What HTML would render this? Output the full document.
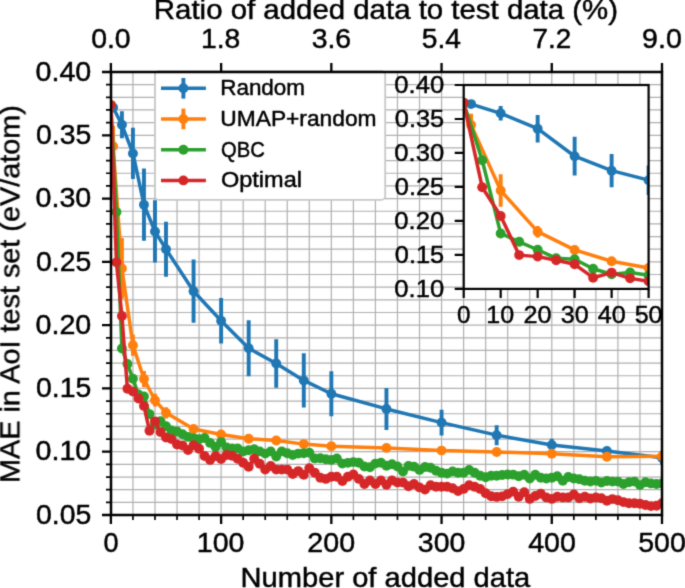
<!DOCTYPE html>
<html><head><meta charset="utf-8"><style>html,body{margin:0;padding:0;background:#fff;overflow:hidden}svg{display:block}text{font-family:"Liberation Sans",sans-serif;stroke:#000;stroke-width:0.45px}</style></head><body>
<svg width="685" height="588" viewBox="0 0 685 588" font-family="Liberation Sans, sans-serif">
<rect width="685" height="588" fill="#fff"/>
<defs>
<filter id="soft" x="0" y="0" width="685" height="588" filterUnits="userSpaceOnUse" color-interpolation-filters="sRGB"><feConvolveMatrix order="3" kernelMatrix="0.0225 0.1050 0.0225 0.1050 0.4900 0.1050 0.0225 0.1050 0.0225" edgeMode="duplicate" preserveAlpha="true"/></filter>
<clipPath id="cm"><rect x="110.9" y="72.0" width="551.1" height="443.0"/></clipPath>
<clipPath id="ci"><rect x="463.7" y="85.0" width="184.90000000000003" height="203.89999999999998"/></clipPath>
</defs>
<g filter="url(#soft)">
<rect width="685" height="588" fill="#fff"/>
<path d="M132.94 72.00V515.00M154.99 72.00V515.00M177.03 72.00V515.00M199.08 72.00V515.00M221.12 72.00V515.00M243.16 72.00V515.00M265.21 72.00V515.00M287.25 72.00V515.00M309.30 72.00V515.00M331.34 72.00V515.00M353.38 72.00V515.00M375.43 72.00V515.00M397.47 72.00V515.00M419.52 72.00V515.00M441.56 72.00V515.00M463.60 72.00V515.00M485.65 72.00V515.00M507.69 72.00V515.00M529.74 72.00V515.00M551.78 72.00V515.00M573.82 72.00V515.00M595.87 72.00V515.00M617.91 72.00V515.00M639.96 72.00V515.00M110.90 502.34H662.00M110.90 489.69H662.00M110.90 477.03H662.00M110.90 464.37H662.00M110.90 451.71H662.00M110.90 439.06H662.00M110.90 426.40H662.00M110.90 413.74H662.00M110.90 401.09H662.00M110.90 388.43H662.00M110.90 375.77H662.00M110.90 363.11H662.00M110.90 350.46H662.00M110.90 337.80H662.00M110.90 325.14H662.00M110.90 312.49H662.00M110.90 299.83H662.00M110.90 287.17H662.00M110.90 274.51H662.00M110.90 261.86H662.00M110.90 249.20H662.00M110.90 236.54H662.00M110.90 223.89H662.00M110.90 211.23H662.00M110.90 198.57H662.00M110.90 185.91H662.00M110.90 173.26H662.00M110.90 160.60H662.00M110.90 147.94H662.00M110.90 135.29H662.00M110.90 122.63H662.00M110.90 109.97H662.00M110.90 97.31H662.00M110.90 84.66H662.00" stroke="#b0b0b0" stroke-width="1.2" fill="none"/>
<g clip-path="url(#cm)">
<path d="M113.10 111.36V103.77M121.92 138.32V111.24M132.94 178.95V127.82M143.97 240.72V168.57M154.99 262.62V200.34M166.01 276.67V221.73M193.56 322.86V259.58M221.12 343.50V297.93M248.68 376.15V320.21M276.23 387.80V339.19M303.78 407.54V353.37M331.34 416.27V371.21M386.45 429.94V387.92M441.56 435.51V409.69M496.67 445.13V425.13M551.78 451.33V438.68M606.89 454.75V447.16M662.00 464.50V450.83" stroke="#1f77b4" stroke-width="3.9" fill="none"/>
<path d="M113.10 107.57 L121.92 124.78 L132.94 153.39 L143.97 204.65 L154.99 231.48 L166.01 249.20 L193.56 291.22 L221.12 320.71 L248.68 348.18 L276.23 363.49 L303.78 380.45 L331.34 393.74 L386.45 408.93 L441.56 422.60 L496.67 435.13 L551.78 445.01 L606.89 450.95 L662.00 457.66" stroke="#1f77b4" stroke-width="3.5" fill="none" stroke-linejoin="round" stroke-linecap="butt"/>
<circle cx="113.10" cy="107.57" r="4.95" fill="#1f77b4"/>
<circle cx="121.92" cy="124.78" r="4.95" fill="#1f77b4"/>
<circle cx="132.94" cy="153.39" r="4.95" fill="#1f77b4"/>
<circle cx="143.97" cy="204.65" r="4.95" fill="#1f77b4"/>
<circle cx="154.99" cy="231.48" r="4.95" fill="#1f77b4"/>
<circle cx="166.01" cy="249.20" r="4.95" fill="#1f77b4"/>
<circle cx="193.56" cy="291.22" r="4.95" fill="#1f77b4"/>
<circle cx="221.12" cy="320.71" r="4.95" fill="#1f77b4"/>
<circle cx="248.68" cy="348.18" r="4.95" fill="#1f77b4"/>
<circle cx="276.23" cy="363.49" r="4.95" fill="#1f77b4"/>
<circle cx="303.78" cy="380.45" r="4.95" fill="#1f77b4"/>
<circle cx="331.34" cy="393.74" r="4.95" fill="#1f77b4"/>
<circle cx="386.45" cy="408.93" r="4.95" fill="#1f77b4"/>
<circle cx="441.56" cy="422.60" r="4.95" fill="#1f77b4"/>
<circle cx="496.67" cy="435.13" r="4.95" fill="#1f77b4"/>
<circle cx="551.78" cy="445.01" r="4.95" fill="#1f77b4"/>
<circle cx="606.89" cy="450.95" r="4.95" fill="#1f77b4"/>
<circle cx="662.00" cy="457.66" r="4.95" fill="#1f77b4"/>
</g>
<g clip-path="url(#cm)">
<path d="M113.10 166.93V125.67M121.92 298.82V238.06M132.94 355.77V334.51M143.97 387.16V370.96M154.99 406.53V393.87M166.01 418.43V407.29M193.56 432.73V425.13M221.12 437.03V431.97M248.68 441.21V436.15M276.23 442.98V437.92M303.78 446.65V441.59M331.34 448.68V443.61M386.45 450.45V445.39M441.56 453.11V448.04M496.67 454.50V449.44M551.78 456.27V451.21M606.89 459.31V454.25M662.00 458.80V453.74" stroke="#ff7f0e" stroke-width="3.9" fill="none"/>
<path d="M113.10 146.30 L121.92 268.44 L132.94 345.14 L143.97 379.06 L154.99 400.20 L166.01 412.86 L193.56 428.93 L221.12 434.50 L248.68 438.68 L276.23 440.45 L303.78 444.12 L331.34 446.15 L386.45 447.92 L441.56 450.58 L496.67 451.97 L551.78 453.74 L606.89 456.78 L662.00 456.27" stroke="#ff7f0e" stroke-width="3.5" fill="none" stroke-linejoin="round" stroke-linecap="butt"/>
<circle cx="113.10" cy="146.30" r="4.95" fill="#ff7f0e"/>
<circle cx="121.92" cy="268.44" r="4.95" fill="#ff7f0e"/>
<circle cx="132.94" cy="345.14" r="4.95" fill="#ff7f0e"/>
<circle cx="143.97" cy="379.06" r="4.95" fill="#ff7f0e"/>
<circle cx="154.99" cy="400.20" r="4.95" fill="#ff7f0e"/>
<circle cx="166.01" cy="412.86" r="4.95" fill="#ff7f0e"/>
<circle cx="193.56" cy="428.93" r="4.95" fill="#ff7f0e"/>
<circle cx="221.12" cy="434.50" r="4.95" fill="#ff7f0e"/>
<circle cx="248.68" cy="438.68" r="4.95" fill="#ff7f0e"/>
<circle cx="276.23" cy="440.45" r="4.95" fill="#ff7f0e"/>
<circle cx="303.78" cy="444.12" r="4.95" fill="#ff7f0e"/>
<circle cx="331.34" cy="446.15" r="4.95" fill="#ff7f0e"/>
<circle cx="386.45" cy="447.92" r="4.95" fill="#ff7f0e"/>
<circle cx="441.56" cy="450.58" r="4.95" fill="#ff7f0e"/>
<circle cx="496.67" cy="451.97" r="4.95" fill="#ff7f0e"/>
<circle cx="551.78" cy="453.74" r="4.95" fill="#ff7f0e"/>
<circle cx="606.89" cy="456.78" r="4.95" fill="#ff7f0e"/>
<circle cx="662.00" cy="456.27" r="4.95" fill="#ff7f0e"/>
</g>
<g clip-path="url(#cm)">
<path d="M110.90 104.91 L116.41 212.11 L121.92 348.43 L127.43 364.00 L132.94 378.81 L138.46 394.50 L143.97 396.40 L149.48 414.12 L154.99 424.50 L160.50 421.21 L166.01 426.27 L171.52 430.40 L177.03 431.50 L182.54 434.20 L188.05 436.90 L193.56 438.10 L199.08 439.30 L204.59 438.00 L210.10 442.90 L215.61 447.00 L221.12 442.12 L226.63 447.40 L232.14 448.50 L237.65 448.50 L243.16 451.40 L248.68 450.30 L254.19 449.20 L259.70 451.40 L265.21 453.60 L270.72 451.40 L276.23 456.50 L281.74 451.40 L287.25 453.20 L292.76 455.00 L298.27 453.60 L303.78 453.20 L309.30 452.80 L314.81 458.41 L320.32 458.27 L325.83 459.20 L331.34 459.90 L336.85 458.50 L342.36 463.60 L347.87 462.85 L353.38 462.10 L358.89 462.80 L364.41 466.50 L369.92 467.20 L375.43 463.60 L380.94 462.80 L386.45 465.80 L391.96 464.30 L397.47 466.50 L402.98 471.60 L408.49 465.92 L414.00 466.64 L419.52 469.90 L425.03 467.00 L430.54 467.70 L436.05 470.70 L441.56 472.80 L447.07 473.60 L452.58 471.40 L458.09 472.80 L463.60 472.80 L469.12 469.90 L474.63 472.80 L480.14 475.80 L485.65 477.20 L491.16 475.80 L496.67 475.80 L502.18 474.93 L507.69 474.55 L513.20 474.66 L518.71 476.30 L524.23 474.80 L529.74 478.50 L535.25 474.80 L540.76 477.70 L546.27 478.50 L551.78 477.70 L557.29 476.30 L562.80 480.70 L568.31 477.00 L573.82 478.50 L579.34 479.20 L584.85 480.70 L590.36 481.55 L595.87 480.83 L601.38 482.59 L606.89 481.00 L612.40 481.60 L617.91 481.60 L623.42 484.00 L628.93 482.20 L634.44 481.60 L639.96 485.10 L645.47 482.20 L650.98 483.40 L656.49 484.00 L662.00 483.40" stroke="#2ca02c" stroke-width="3.5" fill="none" stroke-linejoin="round" stroke-linecap="butt"/>
<circle cx="110.90" cy="104.91" r="4.95" fill="#2ca02c"/>
<circle cx="116.41" cy="212.11" r="4.95" fill="#2ca02c"/>
<circle cx="121.92" cy="348.43" r="4.95" fill="#2ca02c"/>
<circle cx="127.43" cy="364.00" r="4.95" fill="#2ca02c"/>
<circle cx="132.94" cy="378.81" r="4.95" fill="#2ca02c"/>
<circle cx="138.46" cy="394.50" r="4.95" fill="#2ca02c"/>
<circle cx="143.97" cy="396.40" r="4.95" fill="#2ca02c"/>
<circle cx="149.48" cy="414.12" r="4.95" fill="#2ca02c"/>
<circle cx="154.99" cy="424.50" r="4.95" fill="#2ca02c"/>
<circle cx="160.50" cy="421.21" r="4.95" fill="#2ca02c"/>
<circle cx="166.01" cy="426.27" r="4.95" fill="#2ca02c"/>
<circle cx="171.52" cy="430.40" r="4.95" fill="#2ca02c"/>
<circle cx="177.03" cy="431.50" r="4.95" fill="#2ca02c"/>
<circle cx="182.54" cy="434.20" r="4.95" fill="#2ca02c"/>
<circle cx="188.05" cy="436.90" r="4.95" fill="#2ca02c"/>
<circle cx="193.56" cy="438.10" r="4.95" fill="#2ca02c"/>
<circle cx="199.08" cy="439.30" r="4.95" fill="#2ca02c"/>
<circle cx="204.59" cy="438.00" r="4.95" fill="#2ca02c"/>
<circle cx="210.10" cy="442.90" r="4.95" fill="#2ca02c"/>
<circle cx="215.61" cy="447.00" r="4.95" fill="#2ca02c"/>
<circle cx="221.12" cy="442.12" r="4.95" fill="#2ca02c"/>
<circle cx="226.63" cy="447.40" r="4.95" fill="#2ca02c"/>
<circle cx="232.14" cy="448.50" r="4.95" fill="#2ca02c"/>
<circle cx="237.65" cy="448.50" r="4.95" fill="#2ca02c"/>
<circle cx="243.16" cy="451.40" r="4.95" fill="#2ca02c"/>
<circle cx="248.68" cy="450.30" r="4.95" fill="#2ca02c"/>
<circle cx="254.19" cy="449.20" r="4.95" fill="#2ca02c"/>
<circle cx="259.70" cy="451.40" r="4.95" fill="#2ca02c"/>
<circle cx="265.21" cy="453.60" r="4.95" fill="#2ca02c"/>
<circle cx="270.72" cy="451.40" r="4.95" fill="#2ca02c"/>
<circle cx="276.23" cy="456.50" r="4.95" fill="#2ca02c"/>
<circle cx="281.74" cy="451.40" r="4.95" fill="#2ca02c"/>
<circle cx="287.25" cy="453.20" r="4.95" fill="#2ca02c"/>
<circle cx="292.76" cy="455.00" r="4.95" fill="#2ca02c"/>
<circle cx="298.27" cy="453.60" r="4.95" fill="#2ca02c"/>
<circle cx="303.78" cy="453.20" r="4.95" fill="#2ca02c"/>
<circle cx="309.30" cy="452.80" r="4.95" fill="#2ca02c"/>
<circle cx="314.81" cy="458.41" r="4.95" fill="#2ca02c"/>
<circle cx="320.32" cy="458.27" r="4.95" fill="#2ca02c"/>
<circle cx="325.83" cy="459.20" r="4.95" fill="#2ca02c"/>
<circle cx="331.34" cy="459.90" r="4.95" fill="#2ca02c"/>
<circle cx="336.85" cy="458.50" r="4.95" fill="#2ca02c"/>
<circle cx="342.36" cy="463.60" r="4.95" fill="#2ca02c"/>
<circle cx="347.87" cy="462.85" r="4.95" fill="#2ca02c"/>
<circle cx="353.38" cy="462.10" r="4.95" fill="#2ca02c"/>
<circle cx="358.89" cy="462.80" r="4.95" fill="#2ca02c"/>
<circle cx="364.41" cy="466.50" r="4.95" fill="#2ca02c"/>
<circle cx="369.92" cy="467.20" r="4.95" fill="#2ca02c"/>
<circle cx="375.43" cy="463.60" r="4.95" fill="#2ca02c"/>
<circle cx="380.94" cy="462.80" r="4.95" fill="#2ca02c"/>
<circle cx="386.45" cy="465.80" r="4.95" fill="#2ca02c"/>
<circle cx="391.96" cy="464.30" r="4.95" fill="#2ca02c"/>
<circle cx="397.47" cy="466.50" r="4.95" fill="#2ca02c"/>
<circle cx="402.98" cy="471.60" r="4.95" fill="#2ca02c"/>
<circle cx="408.49" cy="465.92" r="4.95" fill="#2ca02c"/>
<circle cx="414.00" cy="466.64" r="4.95" fill="#2ca02c"/>
<circle cx="419.52" cy="469.90" r="4.95" fill="#2ca02c"/>
<circle cx="425.03" cy="467.00" r="4.95" fill="#2ca02c"/>
<circle cx="430.54" cy="467.70" r="4.95" fill="#2ca02c"/>
<circle cx="436.05" cy="470.70" r="4.95" fill="#2ca02c"/>
<circle cx="441.56" cy="472.80" r="4.95" fill="#2ca02c"/>
<circle cx="447.07" cy="473.60" r="4.95" fill="#2ca02c"/>
<circle cx="452.58" cy="471.40" r="4.95" fill="#2ca02c"/>
<circle cx="458.09" cy="472.80" r="4.95" fill="#2ca02c"/>
<circle cx="463.60" cy="472.80" r="4.95" fill="#2ca02c"/>
<circle cx="469.12" cy="469.90" r="4.95" fill="#2ca02c"/>
<circle cx="474.63" cy="472.80" r="4.95" fill="#2ca02c"/>
<circle cx="480.14" cy="475.80" r="4.95" fill="#2ca02c"/>
<circle cx="485.65" cy="477.20" r="4.95" fill="#2ca02c"/>
<circle cx="491.16" cy="475.80" r="4.95" fill="#2ca02c"/>
<circle cx="496.67" cy="475.80" r="4.95" fill="#2ca02c"/>
<circle cx="502.18" cy="474.93" r="4.95" fill="#2ca02c"/>
<circle cx="507.69" cy="474.55" r="4.95" fill="#2ca02c"/>
<circle cx="513.20" cy="474.66" r="4.95" fill="#2ca02c"/>
<circle cx="518.71" cy="476.30" r="4.95" fill="#2ca02c"/>
<circle cx="524.23" cy="474.80" r="4.95" fill="#2ca02c"/>
<circle cx="529.74" cy="478.50" r="4.95" fill="#2ca02c"/>
<circle cx="535.25" cy="474.80" r="4.95" fill="#2ca02c"/>
<circle cx="540.76" cy="477.70" r="4.95" fill="#2ca02c"/>
<circle cx="546.27" cy="478.50" r="4.95" fill="#2ca02c"/>
<circle cx="551.78" cy="477.70" r="4.95" fill="#2ca02c"/>
<circle cx="557.29" cy="476.30" r="4.95" fill="#2ca02c"/>
<circle cx="562.80" cy="480.70" r="4.95" fill="#2ca02c"/>
<circle cx="568.31" cy="477.00" r="4.95" fill="#2ca02c"/>
<circle cx="573.82" cy="478.50" r="4.95" fill="#2ca02c"/>
<circle cx="579.34" cy="479.20" r="4.95" fill="#2ca02c"/>
<circle cx="584.85" cy="480.70" r="4.95" fill="#2ca02c"/>
<circle cx="590.36" cy="481.55" r="4.95" fill="#2ca02c"/>
<circle cx="595.87" cy="480.83" r="4.95" fill="#2ca02c"/>
<circle cx="601.38" cy="482.59" r="4.95" fill="#2ca02c"/>
<circle cx="606.89" cy="481.00" r="4.95" fill="#2ca02c"/>
<circle cx="612.40" cy="481.60" r="4.95" fill="#2ca02c"/>
<circle cx="617.91" cy="481.60" r="4.95" fill="#2ca02c"/>
<circle cx="623.42" cy="484.00" r="4.95" fill="#2ca02c"/>
<circle cx="628.93" cy="482.20" r="4.95" fill="#2ca02c"/>
<circle cx="634.44" cy="481.60" r="4.95" fill="#2ca02c"/>
<circle cx="639.96" cy="485.10" r="4.95" fill="#2ca02c"/>
<circle cx="645.47" cy="482.20" r="4.95" fill="#2ca02c"/>
<circle cx="650.98" cy="483.40" r="4.95" fill="#2ca02c"/>
<circle cx="656.49" cy="484.00" r="4.95" fill="#2ca02c"/>
<circle cx="662.00" cy="483.40" r="4.95" fill="#2ca02c"/>
</g>
<g clip-path="url(#cm)">
<path d="M110.90 104.91 L116.41 262.36 L121.92 315.90 L127.43 388.81 L132.94 391.59 L138.46 398.43 L143.97 405.90 L149.48 430.83 L154.99 421.34 L160.50 432.10 L166.01 437.54 L171.52 439.10 L177.03 444.43 L182.54 445.54 L188.05 450.07 L193.56 445.27 L199.08 448.80 L204.59 456.00 L210.10 460.10 L215.61 456.00 L221.12 459.12 L226.63 454.99 L232.14 455.80 L237.65 458.70 L243.16 462.70 L248.68 466.70 L254.19 458.70 L259.70 463.80 L265.21 469.60 L270.72 466.00 L276.23 469.60 L281.74 469.60 L287.25 469.60 L292.76 474.00 L298.27 471.10 L303.78 474.70 L309.30 468.20 L314.81 472.74 L320.32 477.70 L325.83 478.90 L331.34 476.70 L336.85 476.70 L342.36 481.10 L347.87 476.70 L353.38 474.50 L358.89 478.90 L364.41 484.00 L369.92 480.40 L375.43 484.00 L380.94 480.40 L386.45 484.70 L391.96 480.40 L397.47 482.60 L402.98 482.60 L408.49 486.32 L414.00 484.04 L419.52 487.40 L425.03 489.60 L430.54 485.30 L436.05 486.70 L441.56 486.70 L447.07 486.70 L452.58 488.20 L458.09 491.10 L463.60 488.90 L469.12 485.30 L474.63 486.70 L480.14 488.90 L485.65 493.30 L491.16 496.20 L496.67 496.90 L502.18 496.37 L507.69 494.10 L513.20 491.63 L518.71 496.70 L524.23 492.30 L529.74 498.90 L535.25 496.00 L540.76 493.80 L546.27 497.40 L551.78 498.90 L557.29 496.70 L562.80 497.40 L568.31 497.40 L573.82 494.50 L579.34 498.20 L584.85 496.70 L590.36 498.50 L595.87 497.51 L601.38 498.24 L606.89 500.79 L612.40 499.10 L617.91 500.30 L623.42 502.10 L628.93 503.20 L634.44 503.20 L639.96 503.80 L645.47 505.00 L650.98 506.10 L656.49 505.72 L662.00 503.20" stroke="#d62728" stroke-width="3.5" fill="none" stroke-linejoin="round" stroke-linecap="butt"/>
<circle cx="110.90" cy="104.91" r="4.95" fill="#d62728"/>
<circle cx="116.41" cy="262.36" r="4.95" fill="#d62728"/>
<circle cx="121.92" cy="315.90" r="4.95" fill="#d62728"/>
<circle cx="127.43" cy="388.81" r="4.95" fill="#d62728"/>
<circle cx="132.94" cy="391.59" r="4.95" fill="#d62728"/>
<circle cx="138.46" cy="398.43" r="4.95" fill="#d62728"/>
<circle cx="143.97" cy="405.90" r="4.95" fill="#d62728"/>
<circle cx="149.48" cy="430.83" r="4.95" fill="#d62728"/>
<circle cx="154.99" cy="421.34" r="4.95" fill="#d62728"/>
<circle cx="160.50" cy="432.10" r="4.95" fill="#d62728"/>
<circle cx="166.01" cy="437.54" r="4.95" fill="#d62728"/>
<circle cx="171.52" cy="439.10" r="4.95" fill="#d62728"/>
<circle cx="177.03" cy="444.43" r="4.95" fill="#d62728"/>
<circle cx="182.54" cy="445.54" r="4.95" fill="#d62728"/>
<circle cx="188.05" cy="450.07" r="4.95" fill="#d62728"/>
<circle cx="193.56" cy="445.27" r="4.95" fill="#d62728"/>
<circle cx="199.08" cy="448.80" r="4.95" fill="#d62728"/>
<circle cx="204.59" cy="456.00" r="4.95" fill="#d62728"/>
<circle cx="210.10" cy="460.10" r="4.95" fill="#d62728"/>
<circle cx="215.61" cy="456.00" r="4.95" fill="#d62728"/>
<circle cx="221.12" cy="459.12" r="4.95" fill="#d62728"/>
<circle cx="226.63" cy="454.99" r="4.95" fill="#d62728"/>
<circle cx="232.14" cy="455.80" r="4.95" fill="#d62728"/>
<circle cx="237.65" cy="458.70" r="4.95" fill="#d62728"/>
<circle cx="243.16" cy="462.70" r="4.95" fill="#d62728"/>
<circle cx="248.68" cy="466.70" r="4.95" fill="#d62728"/>
<circle cx="254.19" cy="458.70" r="4.95" fill="#d62728"/>
<circle cx="259.70" cy="463.80" r="4.95" fill="#d62728"/>
<circle cx="265.21" cy="469.60" r="4.95" fill="#d62728"/>
<circle cx="270.72" cy="466.00" r="4.95" fill="#d62728"/>
<circle cx="276.23" cy="469.60" r="4.95" fill="#d62728"/>
<circle cx="281.74" cy="469.60" r="4.95" fill="#d62728"/>
<circle cx="287.25" cy="469.60" r="4.95" fill="#d62728"/>
<circle cx="292.76" cy="474.00" r="4.95" fill="#d62728"/>
<circle cx="298.27" cy="471.10" r="4.95" fill="#d62728"/>
<circle cx="303.78" cy="474.70" r="4.95" fill="#d62728"/>
<circle cx="309.30" cy="468.20" r="4.95" fill="#d62728"/>
<circle cx="314.81" cy="472.74" r="4.95" fill="#d62728"/>
<circle cx="320.32" cy="477.70" r="4.95" fill="#d62728"/>
<circle cx="325.83" cy="478.90" r="4.95" fill="#d62728"/>
<circle cx="331.34" cy="476.70" r="4.95" fill="#d62728"/>
<circle cx="336.85" cy="476.70" r="4.95" fill="#d62728"/>
<circle cx="342.36" cy="481.10" r="4.95" fill="#d62728"/>
<circle cx="347.87" cy="476.70" r="4.95" fill="#d62728"/>
<circle cx="353.38" cy="474.50" r="4.95" fill="#d62728"/>
<circle cx="358.89" cy="478.90" r="4.95" fill="#d62728"/>
<circle cx="364.41" cy="484.00" r="4.95" fill="#d62728"/>
<circle cx="369.92" cy="480.40" r="4.95" fill="#d62728"/>
<circle cx="375.43" cy="484.00" r="4.95" fill="#d62728"/>
<circle cx="380.94" cy="480.40" r="4.95" fill="#d62728"/>
<circle cx="386.45" cy="484.70" r="4.95" fill="#d62728"/>
<circle cx="391.96" cy="480.40" r="4.95" fill="#d62728"/>
<circle cx="397.47" cy="482.60" r="4.95" fill="#d62728"/>
<circle cx="402.98" cy="482.60" r="4.95" fill="#d62728"/>
<circle cx="408.49" cy="486.32" r="4.95" fill="#d62728"/>
<circle cx="414.00" cy="484.04" r="4.95" fill="#d62728"/>
<circle cx="419.52" cy="487.40" r="4.95" fill="#d62728"/>
<circle cx="425.03" cy="489.60" r="4.95" fill="#d62728"/>
<circle cx="430.54" cy="485.30" r="4.95" fill="#d62728"/>
<circle cx="436.05" cy="486.70" r="4.95" fill="#d62728"/>
<circle cx="441.56" cy="486.70" r="4.95" fill="#d62728"/>
<circle cx="447.07" cy="486.70" r="4.95" fill="#d62728"/>
<circle cx="452.58" cy="488.20" r="4.95" fill="#d62728"/>
<circle cx="458.09" cy="491.10" r="4.95" fill="#d62728"/>
<circle cx="463.60" cy="488.90" r="4.95" fill="#d62728"/>
<circle cx="469.12" cy="485.30" r="4.95" fill="#d62728"/>
<circle cx="474.63" cy="486.70" r="4.95" fill="#d62728"/>
<circle cx="480.14" cy="488.90" r="4.95" fill="#d62728"/>
<circle cx="485.65" cy="493.30" r="4.95" fill="#d62728"/>
<circle cx="491.16" cy="496.20" r="4.95" fill="#d62728"/>
<circle cx="496.67" cy="496.90" r="4.95" fill="#d62728"/>
<circle cx="502.18" cy="496.37" r="4.95" fill="#d62728"/>
<circle cx="507.69" cy="494.10" r="4.95" fill="#d62728"/>
<circle cx="513.20" cy="491.63" r="4.95" fill="#d62728"/>
<circle cx="518.71" cy="496.70" r="4.95" fill="#d62728"/>
<circle cx="524.23" cy="492.30" r="4.95" fill="#d62728"/>
<circle cx="529.74" cy="498.90" r="4.95" fill="#d62728"/>
<circle cx="535.25" cy="496.00" r="4.95" fill="#d62728"/>
<circle cx="540.76" cy="493.80" r="4.95" fill="#d62728"/>
<circle cx="546.27" cy="497.40" r="4.95" fill="#d62728"/>
<circle cx="551.78" cy="498.90" r="4.95" fill="#d62728"/>
<circle cx="557.29" cy="496.70" r="4.95" fill="#d62728"/>
<circle cx="562.80" cy="497.40" r="4.95" fill="#d62728"/>
<circle cx="568.31" cy="497.40" r="4.95" fill="#d62728"/>
<circle cx="573.82" cy="494.50" r="4.95" fill="#d62728"/>
<circle cx="579.34" cy="498.20" r="4.95" fill="#d62728"/>
<circle cx="584.85" cy="496.70" r="4.95" fill="#d62728"/>
<circle cx="590.36" cy="498.50" r="4.95" fill="#d62728"/>
<circle cx="595.87" cy="497.51" r="4.95" fill="#d62728"/>
<circle cx="601.38" cy="498.24" r="4.95" fill="#d62728"/>
<circle cx="606.89" cy="500.79" r="4.95" fill="#d62728"/>
<circle cx="612.40" cy="499.10" r="4.95" fill="#d62728"/>
<circle cx="617.91" cy="500.30" r="4.95" fill="#d62728"/>
<circle cx="623.42" cy="502.10" r="4.95" fill="#d62728"/>
<circle cx="628.93" cy="503.20" r="4.95" fill="#d62728"/>
<circle cx="634.44" cy="503.20" r="4.95" fill="#d62728"/>
<circle cx="639.96" cy="503.80" r="4.95" fill="#d62728"/>
<circle cx="645.47" cy="505.00" r="4.95" fill="#d62728"/>
<circle cx="650.98" cy="506.10" r="4.95" fill="#d62728"/>
<circle cx="656.49" cy="505.72" r="4.95" fill="#d62728"/>
<circle cx="662.00" cy="503.20" r="4.95" fill="#d62728"/>
</g>
<rect x="155.0" y="71.2" width="230.2" height="128.7" rx="4" fill="#fff" stroke="#c8c8c8" stroke-width="1.8"/>
<path d="M161 88.30H205.9" stroke="#1f77b4" stroke-width="3.5"/>
<path d="M183.4 78.00V98.60" stroke="#1f77b4" stroke-width="3.9"/>
<circle cx="183.4" cy="88.30" r="4.95" fill="#1f77b4"/>
<text x="0" y="0" font-size="21.594" transform="translate(220.20,95.30) scale(1.0394,1)" fill="#000">Random</text>
<path d="M161 118.90H205.9" stroke="#ff7f0e" stroke-width="3.5"/>
<path d="M183.4 108.60V129.20" stroke="#ff7f0e" stroke-width="3.9"/>
<circle cx="183.4" cy="118.90" r="4.95" fill="#ff7f0e"/>
<text x="0" y="0" font-size="21.594" transform="translate(220.29,125.90) scale(1.0547,1)" fill="#000">UMAP+random</text>
<path d="M161 149.70H205.9" stroke="#2ca02c" stroke-width="3.5"/>
<circle cx="183.4" cy="149.70" r="4.95" fill="#2ca02c"/>
<text x="0" y="0" font-size="21.777" transform="translate(221.09,156.70) scale(0.9300,1)" fill="#000">QBC</text>
<path d="M161 180.40H205.9" stroke="#d62728" stroke-width="3.5"/>
<circle cx="183.4" cy="180.40" r="4.95" fill="#d62728"/>
<text x="0" y="0" font-size="21.594" transform="translate(220.94,187.40) scale(1.0898,1)" fill="#000">Optimal</text>
<rect x="463.7" y="85.0" width="184.90000000000003" height="203.89999999999998" fill="#fff"/>
<g clip-path="url(#ci)">
<path d="M471.10 106.14V102.06M500.68 120.61V106.07M537.66 142.43V114.97M574.64 175.60V136.86M611.62 187.36V153.92M648.60 194.90V165.40" stroke="#1f77b4" stroke-width="3.9" fill="none"/>
<path d="M471.10 104.10 L500.68 113.34 L537.66 128.70 L574.64 156.23 L611.62 170.64 L648.60 180.15" stroke="#1f77b4" stroke-width="3.5" fill="none" stroke-linejoin="round" stroke-linecap="butt"/>
<circle cx="471.10" cy="104.10" r="4.95" fill="#1f77b4"/>
<circle cx="500.68" cy="113.34" r="4.95" fill="#1f77b4"/>
<circle cx="537.66" cy="128.70" r="4.95" fill="#1f77b4"/>
<circle cx="574.64" cy="156.23" r="4.95" fill="#1f77b4"/>
<circle cx="611.62" cy="170.64" r="4.95" fill="#1f77b4"/>
<circle cx="648.60" cy="180.15" r="4.95" fill="#1f77b4"/>
</g>
<g clip-path="url(#ci)">
<path d="M471.10 135.97V113.82M500.68 206.80V174.17M537.66 237.38V225.96M574.64 254.24V245.54M611.62 264.64V257.84M648.60 271.02V265.04" stroke="#ff7f0e" stroke-width="3.9" fill="none"/>
<path d="M471.10 124.90 L500.68 190.48 L537.66 231.67 L574.64 249.89 L611.62 261.24 L648.60 268.03" stroke="#ff7f0e" stroke-width="3.5" fill="none" stroke-linejoin="round" stroke-linecap="butt"/>
<circle cx="471.10" cy="124.90" r="4.95" fill="#ff7f0e"/>
<circle cx="500.68" cy="190.48" r="4.95" fill="#ff7f0e"/>
<circle cx="537.66" cy="231.67" r="4.95" fill="#ff7f0e"/>
<circle cx="574.64" cy="249.89" r="4.95" fill="#ff7f0e"/>
<circle cx="611.62" cy="261.24" r="4.95" fill="#ff7f0e"/>
<circle cx="648.60" cy="268.03" r="4.95" fill="#ff7f0e"/>
</g>
<g clip-path="url(#ci)">
<path d="M463.70 102.67 L482.19 160.24 L500.68 233.44 L519.17 241.80 L537.66 249.75 L556.15 258.18 L574.64 259.20 L593.13 268.71 L611.62 274.29 L630.11 272.52 L648.60 275.24" stroke="#2ca02c" stroke-width="3.5" fill="none" stroke-linejoin="round" stroke-linecap="butt"/>
<circle cx="463.70" cy="102.67" r="4.95" fill="#2ca02c"/>
<circle cx="482.19" cy="160.24" r="4.95" fill="#2ca02c"/>
<circle cx="500.68" cy="233.44" r="4.95" fill="#2ca02c"/>
<circle cx="519.17" cy="241.80" r="4.95" fill="#2ca02c"/>
<circle cx="537.66" cy="249.75" r="4.95" fill="#2ca02c"/>
<circle cx="556.15" cy="258.18" r="4.95" fill="#2ca02c"/>
<circle cx="574.64" cy="259.20" r="4.95" fill="#2ca02c"/>
<circle cx="593.13" cy="268.71" r="4.95" fill="#2ca02c"/>
<circle cx="611.62" cy="274.29" r="4.95" fill="#2ca02c"/>
<circle cx="630.11" cy="272.52" r="4.95" fill="#2ca02c"/>
<circle cx="648.60" cy="275.24" r="4.95" fill="#2ca02c"/>
</g>
<g clip-path="url(#ci)">
<path d="M463.70 102.67 L482.19 187.22 L500.68 215.97 L519.17 255.12 L537.66 256.62 L556.15 260.29 L574.64 264.30 L593.13 277.69 L611.62 272.59 L630.11 278.37 L648.60 281.29" stroke="#d62728" stroke-width="3.5" fill="none" stroke-linejoin="round" stroke-linecap="butt"/>
<circle cx="463.70" cy="102.67" r="4.95" fill="#d62728"/>
<circle cx="482.19" cy="187.22" r="4.95" fill="#d62728"/>
<circle cx="500.68" cy="215.97" r="4.95" fill="#d62728"/>
<circle cx="519.17" cy="255.12" r="4.95" fill="#d62728"/>
<circle cx="537.66" cy="256.62" r="4.95" fill="#d62728"/>
<circle cx="556.15" cy="260.29" r="4.95" fill="#d62728"/>
<circle cx="574.64" cy="264.30" r="4.95" fill="#d62728"/>
<circle cx="593.13" cy="277.69" r="4.95" fill="#d62728"/>
<circle cx="611.62" cy="272.59" r="4.95" fill="#d62728"/>
<circle cx="630.11" cy="278.37" r="4.95" fill="#d62728"/>
<circle cx="648.60" cy="281.29" r="4.95" fill="#d62728"/>
</g>
<rect x="463.7" y="85.0" width="184.90000000000003" height="203.89999999999998" fill="none" stroke="#000" stroke-width="2.2"/>
<path d="M454.70 288.90H463.70M454.70 254.92H463.70M454.70 220.93H463.70M454.70 186.95H463.70M454.70 152.97H463.70M454.70 118.98H463.70M454.70 85.00H463.70M463.70 288.90V297.90M500.68 288.90V297.90M537.66 288.90V297.90M574.64 288.90V297.90M611.62 288.90V297.90M648.60 288.90V297.90" stroke="#000" stroke-width="2.2" fill="none"/>
<text x="0" y="0" font-size="24.103" transform="translate(394.31,296.60) scale(1.0626,1)" fill="#000">0.10</text>
<text x="0" y="0" font-size="24.103" transform="translate(394.78,262.62) scale(1.0525,1)" fill="#000">0.15</text>
<text x="0" y="0" font-size="24.103" transform="translate(394.31,228.63) scale(1.0626,1)" fill="#000">0.20</text>
<text x="0" y="0" font-size="24.103" transform="translate(394.78,194.65) scale(1.0525,1)" fill="#000">0.25</text>
<text x="0" y="0" font-size="24.103" transform="translate(394.31,160.67) scale(1.0626,1)" fill="#000">0.30</text>
<text x="0" y="0" font-size="24.103" transform="translate(394.78,126.68) scale(1.0525,1)" fill="#000">0.35</text>
<text x="0" y="0" font-size="24.103" transform="translate(394.31,92.70) scale(1.0626,1)" fill="#000">0.40</text>
<text x="0" y="0" font-size="24.103" transform="translate(456.97,323.05) scale(1.0057,1)" fill="#000">0</text>
<text x="0" y="0" font-size="24.103" transform="translate(486.32,323.05) scale(1.0410,1)" fill="#000">10</text>
<text x="0" y="0" font-size="24.103" transform="translate(523.52,323.05) scale(1.0480,1)" fill="#000">20</text>
<text x="0" y="0" font-size="24.103" transform="translate(560.76,323.05) scale(1.0378,1)" fill="#000">30</text>
<text x="0" y="0" font-size="24.103" transform="translate(597.82,323.05) scale(1.0455,1)" fill="#000">40</text>
<text x="0" y="0" font-size="24.103" transform="translate(634.72,323.05) scale(1.0378,1)" fill="#000">50</text>
<rect x="111" y="72.0" width="551" height="443.0" fill="none" stroke="#000" stroke-width="2.5"/>
<path d="M102.00 515.00H111.00M102.00 451.71H111.00M102.00 388.43H111.00M102.00 325.14H111.00M102.00 261.86H111.00M102.00 198.57H111.00M102.00 135.29H111.00M102.00 72.00H111.00M110.90 515.00V524.00M110.90 72.00V63.00M221.12 515.00V524.00M221.12 72.00V63.00M331.34 515.00V524.00M331.34 72.00V63.00M441.56 515.00V524.00M441.56 72.00V63.00M551.78 515.00V524.00M551.78 72.00V63.00M662.00 515.00V524.00M662.00 72.00V63.00" stroke="#000" stroke-width="2.3" fill="none"/>
<path d="M106.00 502.34H111.00M106.00 489.69H111.00M106.00 477.03H111.00M106.00 464.37H111.00M106.00 439.06H111.00M106.00 426.40H111.00M106.00 413.74H111.00M106.00 401.09H111.00M106.00 375.77H111.00M106.00 363.11H111.00M106.00 350.46H111.00M106.00 337.80H111.00M106.00 312.49H111.00M106.00 299.83H111.00M106.00 287.17H111.00M106.00 274.51H111.00M106.00 249.20H111.00M106.00 236.54H111.00M106.00 223.89H111.00M106.00 211.23H111.00M106.00 185.91H111.00M106.00 173.26H111.00M106.00 160.60H111.00M106.00 147.94H111.00M106.00 122.63H111.00M106.00 109.97H111.00M106.00 97.31H111.00M106.00 84.66H111.00M132.94 515.00V520.00M154.99 515.00V520.00M177.03 515.00V520.00M199.08 515.00V520.00M243.16 515.00V520.00M265.21 515.00V520.00M287.25 515.00V520.00M309.30 515.00V520.00M353.38 515.00V520.00M375.43 515.00V520.00M397.47 515.00V520.00M419.52 515.00V520.00M463.60 515.00V520.00M485.65 515.00V520.00M507.69 515.00V520.00M529.74 515.00V520.00M573.82 515.00V520.00M595.87 515.00V520.00M617.91 515.00V520.00M639.96 515.00V520.00" stroke="#000" stroke-width="1.7" fill="none"/>
<text x="0" y="0" font-size="26.957" transform="translate(36.05,523.70) scale(1.0525,1)" fill="#000">0.05</text>
<text x="0" y="0" font-size="26.957" transform="translate(35.53,460.41) scale(1.0626,1)" fill="#000">0.10</text>
<text x="0" y="0" font-size="26.957" transform="translate(36.05,397.13) scale(1.0525,1)" fill="#000">0.15</text>
<text x="0" y="0" font-size="26.957" transform="translate(35.53,333.84) scale(1.0626,1)" fill="#000">0.20</text>
<text x="0" y="0" font-size="26.957" transform="translate(36.05,270.56) scale(1.0525,1)" fill="#000">0.25</text>
<text x="0" y="0" font-size="26.957" transform="translate(35.53,207.27) scale(1.0626,1)" fill="#000">0.30</text>
<text x="0" y="0" font-size="26.957" transform="translate(36.05,143.99) scale(1.0525,1)" fill="#000">0.35</text>
<text x="0" y="0" font-size="26.957" transform="translate(35.53,80.70) scale(1.0626,1)" fill="#000">0.40</text>
<text x="0" y="0" font-size="26.957" transform="translate(103.38,551.60) scale(1.0057,1)" fill="#000">0</text>
<text x="0" y="0" font-size="26.957" transform="translate(196.86,551.60) scale(1.0588,1)" fill="#000">100</text>
<text x="0" y="0" font-size="26.957" transform="translate(307.34,551.60) scale(1.0631,1)" fill="#000">200</text>
<text x="0" y="0" font-size="26.957" transform="translate(417.85,551.60) scale(1.0564,1)" fill="#000">300</text>
<text x="0" y="0" font-size="26.957" transform="translate(528.18,551.60) scale(1.0612,1)" fill="#000">400</text>
<text x="0" y="0" font-size="26.957" transform="translate(638.29,551.60) scale(1.0564,1)" fill="#000">500</text>
<text x="0" y="0" font-size="26.957" transform="translate(91.15,47.50) scale(1.0543,1)" fill="#000">0.0</text>
<text x="0" y="0" font-size="26.957" transform="translate(200.96,47.50) scale(1.0498,1)" fill="#000">1.8</text>
<text x="0" y="0" font-size="26.957" transform="translate(311.65,47.50) scale(1.0547,1)" fill="#000">3.6</text>
<text x="0" y="0" font-size="26.978" transform="translate(421.82,47.50) scale(1.0455,1)" fill="#000">5.4</text>
<text x="0" y="0" font-size="26.957" transform="translate(532.41,47.50) scale(1.0339,1)" fill="#000">7.2</text>
<text x="0" y="0" font-size="26.957" transform="translate(642.10,47.50) scale(1.0583,1)" fill="#000">9.0</text>
<text x="0" y="0" font-size="26.836" transform="translate(153.85,19.30) scale(1.0961,1)" fill="#000">Ratio of added data to test data (%)</text>
<text x="0" y="0" font-size="26.836" transform="translate(240.52,587.00) scale(1.0852,1)" fill="#000">Number of added data</text>
<text x="0" y="0" font-size="26.836" transform="translate(19.40,482.90) rotate(-90) scale(1.0732,1)">MAE in AoI test set (eV/atom)</text>
</g>
</svg>
</body></html>
